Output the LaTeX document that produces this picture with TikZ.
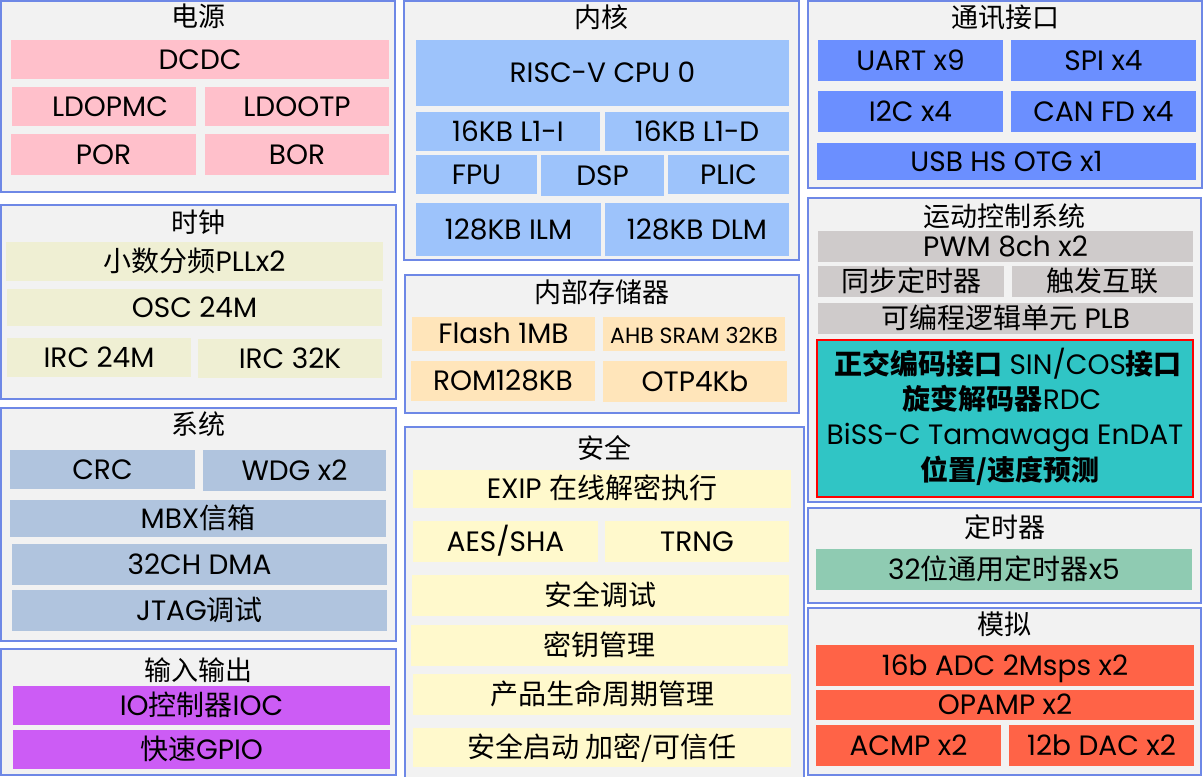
\documentclass[tikz,border=0pt]{standalone}
\usepackage{fontspec}
\setmainfont{Poppins}
\newfontfamily\cjk{Noto Sans CJK SC}
\newcommand\z[1]{{\cjk #1}}
\definecolor{pinkc}{HTML}{FFC0CB}
\definecolor{coreblue}{HTML}{9DC3FB}
\definecolor{commblue}{HTML}{6B8FFF}
\definecolor{clockc}{HTML}{EFEFD3}
\definecolor{memc}{HTML}{FFE5BA}
\definecolor{sysc}{HTML}{B0C4DE}
\definecolor{motc}{HTML}{CFCBCB}
\definecolor{tealc}{HTML}{30C5C5}
\definecolor{timc}{HTML}{8FCBB2}
\definecolor{anac}{HTML}{FF6347}
\definecolor{ioc}{HTML}{CC5CF5}
\definecolor{secc}{HTML}{FFF9CC}
\definecolor{grpbg}{HTML}{F2F2F2}
\definecolor{grpborder}{HTML}{6E88E6}
\tikzset{
  grp/.style={draw=grpborder, fill=grpbg, line width=1.3pt, rectangle, inner sep=0pt, outer sep=0pt},
  blk/.style={rectangle, draw=none, inner sep=0pt, outer sep=0pt, text=black,
    font=\fontsize{28}{32}\selectfont, text height=19.5pt, text depth=0pt, align=center},
  ttl/.style={inner sep=0pt, text=black, font=\fontsize{27}{31}\selectfont, text height=19pt, text depth=0pt},
}
\newcommand\blk[7]{\node[blk, fill=#6, minimum width={(#4-#2)*1pt}, minimum height={(#5-#3)*1pt}] (#1) at ({(#2+#4)/2},{(#3+#5)/2}) {#7};}
\newcommand\grp[7]{\node[grp, minimum width={(#4-#2)*1pt}, minimum height={(#5-#3)*1pt}] (#1) at ({(#2+#4)/2},{(#3+#5)/2}) {};
  \node[ttl] (#1t) at ({(#2+#4)/2},#7) {#6};}
\begin{document}
\begin{tikzpicture}[x=1pt,y=-1pt]
\useasboundingbox[fill=white] (0,0) rectangle (1204,776);
% Power
\grp{pwr}{1}{1}{395}{192}{\z{电源}}{17}
\blk{dcdc}{11}{40}{389}{79}{pinkc}{DCDC}
\blk{ldopmc}{12}{87}{196}{126}{pinkc}{\hspace*{12pt}LDOPMC}
\blk{ldootp}{205}{87}{389}{126}{pinkc}{LDOOTP}
\blk{por}{11}{134}{196}{175}{pinkc}{POR}
\blk{bor}{205}{134}{389}{175}{pinkc}{BOR}
% Core
\grp{core}{404}{1}{799}{260}{\z{内核}}{18}
\blk{risc}{416}{40}{789}{106}{coreblue}{RISC-V CPU 0}
\blk{l1i}{416}{112}{600}{151}{coreblue}{16KB L1-I}
\blk{l1d}{605}{112}{789}{151}{coreblue}{16KB L1-D}
\blk{fpu}{416}{155}{537}{194}{coreblue}{FPU}
\blk{dsp}{541}{155}{664}{196}{coreblue}{DSP}
\blk{plic}{668}{155}{789}{194}{coreblue}{PLIC}
\blk{ilm}{416}{203}{601}{256}{coreblue}{128KB ILM}
\blk{dlm}{605}{203}{789}{256}{coreblue}{128KB DLM}
% Comm
\grp{comm}{808}{1}{1202}{188}{\z{通讯接口}}{18}
\blk{uart}{818}{40}{1003}{81}{commblue}{UART x9}
\blk{spi}{1011}{40}{1196}{81}{commblue}{SPI x4}
\blk{i2c}{818}{91}{1003}{132}{commblue}{I2C x4}
\blk{can}{1011}{91}{1196}{132}{commblue}{CAN FD x4}
\blk{usb}{817}{143}{1196}{180}{commblue}{USB HS OTG x1}
% Clock
\grp{clk}{1}{205}{396}{399}{\z{时钟}}{223}
\blk{pll}{6}{242}{383}{281}{clockc}{\z{小数分频}PLLx2}
\blk{osc}{7}{289}{382}{326}{clockc}{OSC 24M}
\blk{irca}{7}{338}{191}{377}{clockc}{IRC 24M}
\blk{ircb}{198}{339}{382}{378}{clockc}{IRC 32K}
% Memory
\grp{mem}{405}{275}{799}{413}{\z{内部存储器}}{293}
\blk{flash}{412}{317}{595}{351}{memc}{Flash 1MB}
\blk{sram}{603}{317}{785}{351}{memc}{\fontsize{22}{26}\selectfont AHB SRAM 32KB}
\blk{rom}{411}{361}{595}{401}{memc}{ROM128KB}
\blk{otp}{603}{361}{787}{402}{memc}{OTP4Kb}
% Motion
\grp{mot}{808}{198}{1201}{502}{\z{运动控制系统}}{217}
\blk{pwm}{818}{231}{1193}{262}{motc}{PWM 8ch x2}
\blk{sync}{818}{266}{1004}{297}{motc}{\z{同步定时器}}
\blk{trig}{1012}{266}{1193}{297}{motc}{\z{触发互联}}
\blk{plb}{818}{303}{1193}{334}{motc}{\z{可编程逻辑单元} PLB}
\node[rectangle, draw=red, line width=2pt, fill=tealc, inner sep=0pt, outer sep=0pt,
  minimum width=376pt, minimum height=157pt] (enc) at (1005,418.5) {};
\node[blk] (enc1) at (1008,365) {\z{\bfseries 正交编码接口} SIN/COS\z{\bfseries 接口}};
\node[blk] (enc2) at (1002,400) {\z{\bfseries 旋变解码器}RDC};
\node[blk] (enc3) at (1005,435) {BiSS-C Tamawaga EnDAT};
\node[blk] (enc4) at (1010,471) {\z{\bfseries 位置/速度预测}};
% System
\grp{sys}{1}{408}{396}{641}{\z{系统}}{425}
\blk{crc}{10}{450}{195}{489}{sysc}{CRC}
\blk{wdg}{203}{450}{386}{491}{sysc}{WDG x2}
\blk{mbx}{10}{500}{386}{537}{sysc}{MBX\z{信箱}}
\blk{dma}{12}{544}{387}{585}{sysc}{32CH DMA}
\blk{jtag}{12}{590}{387}{631}{sysc}{JTAG\z{调试}}
% Security
\grp{sec}{405}{427}{804}{780}{\z{安全}}{449}
\blk{exip}{413}{470}{791}{508}{secc}{EXIP \z{在线解密执行}}
\blk{aes}{413}{521}{598}{562}{secc}{AES/SHA}
\blk{trng}{605}{521}{789}{562}{secc}{TRNG}
\blk{sdbg}{412}{575}{789}{616}{secc}{\z{安全调试}}
\blk{keym}{411}{625}{788}{666}{secc}{\z{密钥管理}}
\blk{plm}{413}{674}{791}{715}{secc}{\z{产品生命周期管理}}
\blk{sboot}{413}{728}{791}{767}{secc}{\z{安全启动 加密/可信任}}
% Timer
\grp{tim}{808}{508}{1201}{603}{\z{定时器}}{528}
\blk{gpt}{816}{549}{1192}{590}{timc}{32\z{位通用定时器}x5}
% Analog
\grp{ana}{808}{608}{1201}{775}{\z{模拟}}{625}
\blk{adc}{816}{645}{1194}{686}{anac}{16b ADC 2Msps x2}
\blk{opamp}{816}{690}{1194}{720}{anac}{OPAMP x2}
\blk{acmp}{816}{725}{1001}{766}{anac}{ACMP x2}
\blk{dac}{1009}{725}{1194}{766}{anac}{12b DAC x2}
% IO
\grp{io}{1}{649}{396}{775}{\z{输入输出}}{671}
\blk{iocn}{13}{686}{390}{725}{ioc}{IO\z{控制器}IOC}
\blk{gpio}{13}{730}{390}{769}{ioc}{\z{快速}GPIO}
\end{tikzpicture}
\end{document}
